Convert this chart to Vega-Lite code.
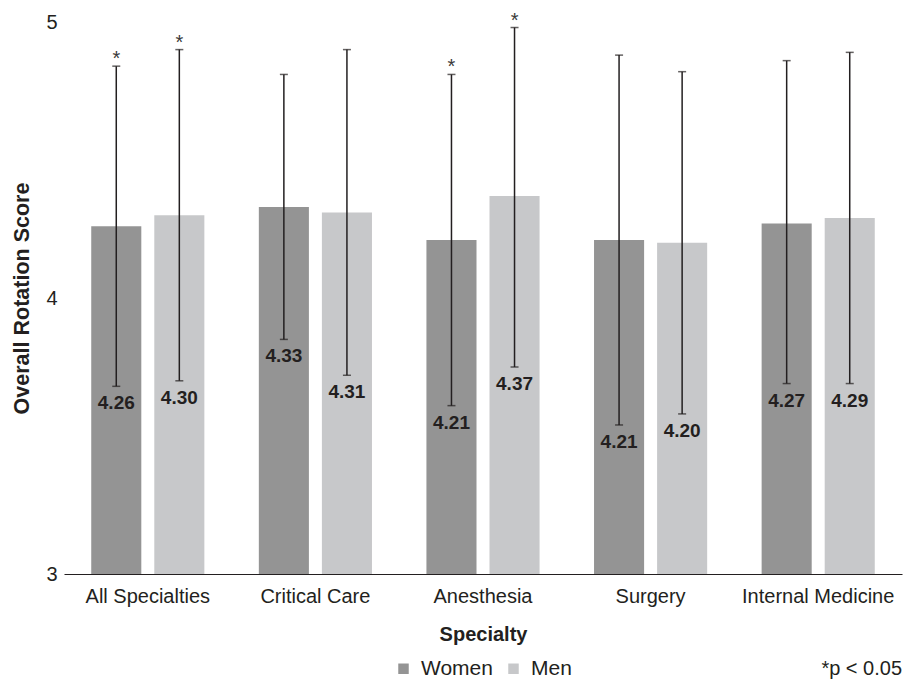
{
  "$schema": "https://vega.github.io/schema/vega-lite/v6.json",
  "autosize": {"type": "none"},
  "padding": {"left": 64, "top": 22, "right": 5, "bottom": 106},
  "width": 838,
  "height": 552,
  "background": "white",
  "config": {
    "font": "Liberation Sans",
    "view": {"stroke": null},
    "axis": {"labelColor": "#231f20", "titleColor": "#231f20", "labelFont": "Liberation Sans", "titleFont": "Liberation Sans"},
    "legend": {"labelColor": "#231f20", "labelFont": "Liberation Sans"},
    "title": {"font": "Liberation Sans", "color": "#231f20"}
  },
  "title": {
    "text": "*p < 0.05",
    "orient": "bottom",
    "anchor": "end",
    "fontSize": 20,
    "fontWeight": "normal",
    "offset": -20
  },
  "data": {
    "values": [
      {"specialty": "All Specialties", "gender": "Women", "score": 4.26, "lo": 3.68, "hi": 4.84, "sig": "*"},
      {"specialty": "All Specialties", "gender": "Men", "score": 4.30, "lo": 3.70, "hi": 4.90, "sig": "*"},
      {"specialty": "Critical Care", "gender": "Women", "score": 4.33, "lo": 3.85, "hi": 4.81, "sig": ""},
      {"specialty": "Critical Care", "gender": "Men", "score": 4.31, "lo": 3.72, "hi": 4.90, "sig": ""},
      {"specialty": "Anesthesia", "gender": "Women", "score": 4.21, "lo": 3.61, "hi": 4.81, "sig": "*"},
      {"specialty": "Anesthesia", "gender": "Men", "score": 4.37, "lo": 3.75, "hi": 4.98, "sig": "*"},
      {"specialty": "Surgery", "gender": "Women", "score": 4.21, "lo": 3.54, "hi": 4.88, "sig": ""},
      {"specialty": "Surgery", "gender": "Men", "score": 4.20, "lo": 3.58, "hi": 4.82, "sig": ""},
      {"specialty": "Internal Medicine", "gender": "Women", "score": 4.27, "lo": 3.69, "hi": 4.86, "sig": ""},
      {"specialty": "Internal Medicine", "gender": "Men", "score": 4.29, "lo": 3.69, "hi": 4.89, "sig": ""}
    ]
  },
  "encoding": {
    "x": {
      "field": "specialty",
      "type": "nominal",
      "sort": ["All Specialties", "Critical Care", "Anesthesia", "Surgery", "Internal Medicine"],
      "scale": {"paddingInner": 0.325, "paddingOuter": 0.1625},
      "axis": {
        "title": "Specialty",
        "titleFontSize": 20,
        "titleFontWeight": "bold",
        "titlePadding": 18,
        "labelFontSize": 20,
        "labelAngle": 0,
        "labelPadding": 12,
        "ticks": false,
        "domainColor": "#231f20",
        "domainWidth": 1.2
      }
    },
    "xOffset": {
      "field": "gender",
      "type": "nominal",
      "sort": ["Women", "Men"],
      "scale": {"paddingInner": 0.206, "paddingOuter": 0}
    }
  },
  "layer": [
    {
      "mark": {"type": "bar", "clip": true},
      "encoding": {
        "y": {
          "field": "score",
          "type": "quantitative",
          "scale": {"domain": [3, 5], "nice": false, "zero": false},
          "axis": {
            "title": "Overall Rotation Score",
            "titleFontSize": 21.5,
            "titleFontWeight": "bold",
            "titlePadding": 12,
            "values": [3, 4, 5],
            "format": ".0f",
            "labelOverlap": false,
            "labelFontSize": 20,
            "labelPadding": 7,
            "ticks": false,
            "domain": false,
            "grid": false
          }
        },
        "color": {
          "field": "gender",
          "type": "nominal",
          "sort": ["Women", "Men"],
          "scale": {"domain": ["Women", "Men"], "range": ["#949494", "#c7c8ca"]},
          "legend": {
            "title": null,
            "orient": "none",
            "direction": "horizontal",
            "legendX": 329,
            "legendY": 636,
            "symbolType": "square",
            "symbolSize": 110,
            "symbolStrokeWidth": 0,
            "labelFontSize": 21,
            "labelOffset": 7,
            "columnPadding": 10
          }
        }
      }
    },
    {
      "mark": {"type": "rule", "color": "#231f20", "strokeWidth": 1.5},
      "encoding": {
        "y": {"field": "lo", "type": "quantitative"},
        "y2": {"field": "hi"}
      }
    },
    {
      "mark": {"type": "tick", "color": "#231f20", "thickness": 1.5, "size": 8},
      "encoding": {"y": {"field": "lo", "type": "quantitative"}}
    },
    {
      "mark": {"type": "tick", "color": "#231f20", "thickness": 1.5, "size": 8},
      "encoding": {"y": {"field": "hi", "type": "quantitative"}}
    },
    {
      "mark": {"type": "text", "fontSize": 19, "fontWeight": "bold", "color": "#231f20", "baseline": "middle", "dy": 17},
      "encoding": {
        "y": {"field": "lo", "type": "quantitative"},
        "text": {"field": "score", "type": "quantitative", "format": ".2f"}
      }
    },
    {
      "mark": {"type": "text", "fontSize": 20, "color": "#3a3a3a", "baseline": "alphabetic", "dy": -1},
      "encoding": {
        "y": {"field": "hi", "type": "quantitative"},
        "text": {"field": "sig", "type": "nominal"}
      }
    }
  ]
}
